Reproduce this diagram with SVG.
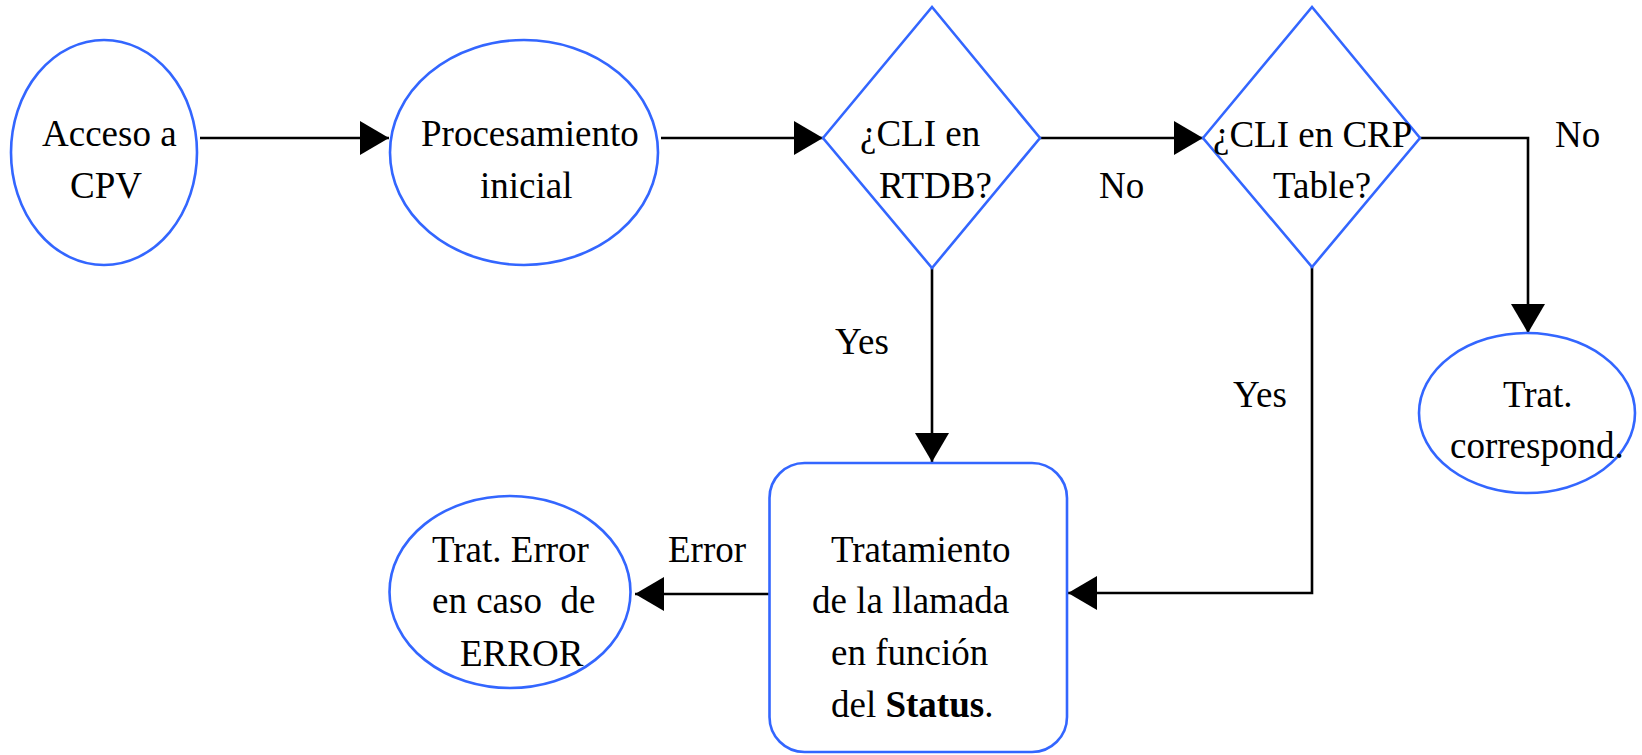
<svg xmlns="http://www.w3.org/2000/svg" width="1642" height="755" viewBox="0 0 1642 755">
<style>
.n{fill:#fff;stroke:#3366ff;stroke-width:2.6}
.t{font-family:"Liberation Serif","Times New Roman",serif;font-size:37px;fill:#000}
.c{fill:none;stroke:#000;stroke-width:2.6}
</style>
<defs>
<marker id="ah" markerUnits="userSpaceOnUse" markerWidth="30" markerHeight="34" refX="29" refY="17" orient="auto">
<path d="M0,0 L29,17 L0,34 Z" fill="#000"/>
</marker>
</defs>
<rect width="1642" height="755" fill="#fff"/>
<g id="connectors">
<path class="c" d="M200,138 H389" marker-end="url(#ah)"/>
<path class="c" d="M661,138 H823" marker-end="url(#ah)"/>
<path class="c" d="M1040,138 H1203" marker-end="url(#ah)"/>
<path class="c" d="M1420,138 H1528 V333" marker-end="url(#ah)"/>
<path class="c" d="M932,268 V462" marker-end="url(#ah)"/>
<path class="c" d="M1312,267 V593 H1068" marker-end="url(#ah)"/>
<path class="c" d="M769,594 H635" marker-end="url(#ah)"/>
<text class="t" x="1099" y="198">No</text>
<text class="t" x="1555" y="147">No</text>
<text class="t" x="835" y="354">Yes</text>
<text class="t" x="1233" y="407">Yes</text>
<text class="t" x="668" y="562">Error</text>
</g>
<g id="acceso">
<ellipse class="n" cx="104" cy="152.5" rx="93" ry="112.5"/>
<text class="t" x="42" y="146">Acceso a</text>
<text class="t" x="70" y="198">CPV</text>
</g>
<g id="procesamiento">
<ellipse class="n" cx="524" cy="152.5" rx="134" ry="112.5"/>
<text class="t" x="421" y="146">Procesamiento</text>
<text class="t" x="480" y="198">inicial</text>
</g>
<g id="rtdb">
<polygon class="n" points="823,138 932,7 1040,138 932,268"/>
<text class="t" x="860" y="146">¿CLI en</text>
<text class="t" x="879" y="198">RTDB?</text>
</g>
<g id="crp">
<polygon class="n" points="1203,138 1312,7 1420,138 1312,267"/>
<text class="t" x="1213" y="147">¿CLI en CRP</text>
<text class="t" x="1273" y="198">Table?</text>
</g>
<g id="correspond">
<ellipse class="n" cx="1527" cy="413" rx="108" ry="80"/>
<text class="t" x="1503" y="407">Trat.</text>
<text class="t" x="1450" y="458">correspond.</text>
</g>
<g id="tratamiento">
<rect class="n" x="769.5" y="463" width="297.5" height="289" rx="35" ry="35"/>
<text class="t" x="831" y="562">Tratamiento</text>
<text class="t" x="812" y="613">de la llamada</text>
<text class="t" x="831" y="665">en función</text>
<text class="t" x="831" y="717">del <tspan font-weight="bold">Status</tspan>.</text>
</g>
<g id="error">
<ellipse class="n" cx="510" cy="592" rx="120.5" ry="96"/>
<text class="t" x="432" y="562">Trat. Error</text>
<text class="t" x="432" y="613" xml:space="preserve">en caso  de</text>
<text class="t" x="460" y="666">ERROR</text>
</g>
</svg>
